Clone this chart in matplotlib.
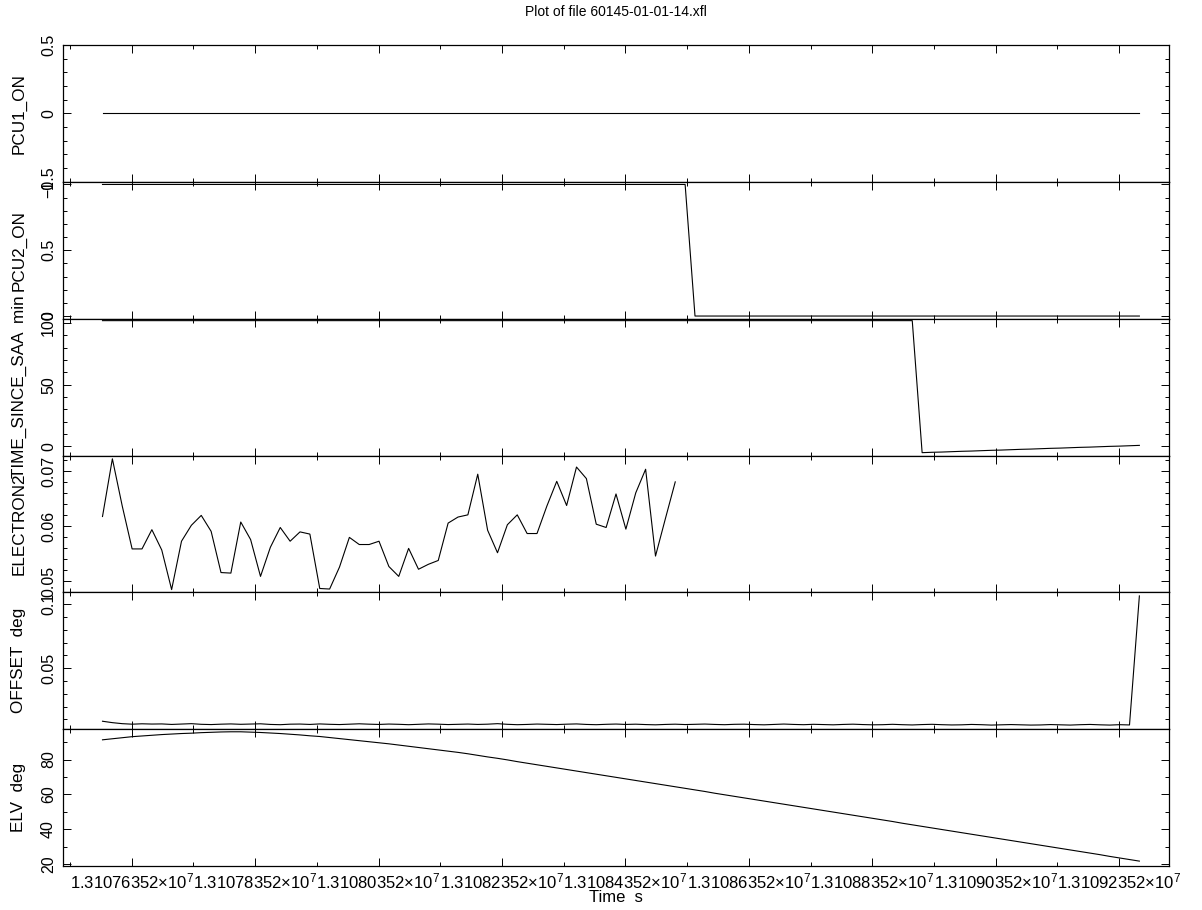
import numpy as np
import matplotlib
matplotlib.use('Agg')
import matplotlib.pyplot as plt
from matplotlib.ticker import MultipleLocator, FixedLocator

plt.rcParams['font.family'] = ['Liberation Sans', 'DejaVu Sans']
plt.rcParams['mathtext.fontset'] = 'custom'
plt.rcParams['mathtext.rm'] = 'Liberation Sans'
plt.rcParams['mathtext.it'] = 'Liberation Sans:italic'
plt.rcParams['mathtext.bf'] = 'Liberation Sans:bold'

# time column: 16 s rows
t_start = 13107588.0
t_step = 16.0
n_rows = 106
time = t_start + t_step * np.arange(n_rows)

pcu1_on = [0] * 106
pcu2_on = [1] * 60 + [0] * 46

time_since_saa = [101.9] * 83 + [
    -5.0, -4.7, -4.5, -4.2, -3.9, -3.7, -3.4, -3.1, -2.9, -2.6,
    -2.3, -2.1, -1.8, -1.5, -1.3, -1.0, -0.7, -0.5, -0.2, 0.1,
    0.3, 0.6, 0.9]

electron2 = [
    0.0618, 0.0723, 0.0637, 0.0559, 0.0559, 0.0594, 0.0557, 0.0485, 0.0573, 0.0602,
    0.0620, 0.0591, 0.0516, 0.0515, 0.0608, 0.0576, 0.0509, 0.0562, 0.0598, 0.0573,
    0.0590, 0.0586, 0.0487, 0.0486, 0.0526, 0.0580, 0.0567, 0.0567, 0.0573, 0.0527,
    0.0509, 0.0560, 0.0522, 0.0531, 0.0538, 0.0606, 0.0617, 0.0621, 0.0695, 0.0593,
    0.0552, 0.0603, 0.0621, 0.0587, 0.0587, 0.0637, 0.0682, 0.0638, 0.0708, 0.0687,
    0.0604, 0.0598, 0.0659, 0.0595, 0.0661, 0.0704, 0.0546, 0.0614, 0.0681]

offset = [
    0.0085, 0.0074, 0.0066, 0.0062, 0.0065, 0.0063, 0.0064, 0.0060, 0.0063, 0.0066,
    0.0061, 0.0059, 0.0062, 0.0064, 0.0061, 0.0063, 0.0065, 0.0060, 0.0058, 0.0062,
    0.0063, 0.0060, 0.0064, 0.0061, 0.0059, 0.0062, 0.0065, 0.0062, 0.0060, 0.0063,
    0.0061, 0.0058, 0.0061, 0.0064, 0.0062, 0.0059, 0.0061, 0.0063, 0.0060, 0.0062,
    0.0066, 0.0061, 0.0058, 0.0060, 0.0063, 0.0061, 0.0059, 0.0062, 0.0064, 0.0060,
    0.0058, 0.0061, 0.0063, 0.0060, 0.0062, 0.0059, 0.0057, 0.0060, 0.0062, 0.0059,
    0.0061, 0.0063, 0.0060, 0.0058, 0.0061, 0.0062, 0.0059, 0.0057, 0.0060, 0.0063,
    0.0060, 0.0058, 0.0061, 0.0059, 0.0057, 0.0060, 0.0062, 0.0059, 0.0057, 0.0058,
    0.0061, 0.0058, 0.0056, 0.0059, 0.0061, 0.0058, 0.0056, 0.0057, 0.0060, 0.0058,
    0.0055, 0.0057, 0.0059, 0.0057, 0.0055, 0.0056, 0.0059, 0.0057, 0.0055, 0.0058,
    0.0060, 0.0057, 0.0055, 0.0058, 0.0056, 0.1065]

elv = [
    91.3, 91.9, 92.5, 93.1, 93.5, 93.9, 94.3, 94.6, 94.9, 95.1,
    95.4, 95.6, 95.8, 95.9, 95.9, 95.7, 95.5, 95.2, 94.9, 94.5,
    94.1, 93.6, 93.2, 92.6, 92.0, 91.4, 90.8, 90.2, 89.6, 89.0,
    88.3, 87.6, 86.9, 86.2, 85.5, 84.8, 84.1, 83.3, 82.4, 81.5,
    80.7, 79.8, 78.8, 77.9, 77.0, 76.1, 75.2, 74.3, 73.4, 72.5,
    71.6, 70.7, 69.8, 68.9, 68.0, 67.1, 66.2, 65.3, 64.4, 63.5,
    62.6, 61.7, 60.7, 59.8, 58.9, 58.0, 57.1, 56.2, 55.3, 54.4,
    53.5, 52.6, 51.7, 50.8, 49.9, 49.0, 48.1, 47.2, 46.3, 45.4,
    44.5, 43.5, 42.6, 41.7, 40.8, 39.9, 39.0, 38.1, 37.2, 36.3,
    35.4, 34.5, 33.6, 32.7, 31.8, 30.9, 30.0, 29.1, 28.2, 27.3,
    26.4, 25.5, 24.5, 23.6, 22.7, 21.8]

series = [pcu1_on, pcu2_on, time_since_saa, electron2, offset, elv]
ylabels = ['PCU1_ON', 'PCU2_ON', 'TIME_SINCE_SAA  min', 'ELECTRON2', 'OFFSET  deg', 'ELV  deg']
ylims = [(-0.5, 0.5), (-0.02, 1.02), (-7.3, 103.5), (0.048, 0.0729), (0.0023, 0.1093), (19.0, 97.4)]
yticks = [[-0.5, 0, 0.5], [0, 0.5, 1], [0, 50, 100], [0.05, 0.06, 0.07], [0.05, 0.1], [20, 40, 60, 80]]
yminor = [0.1, 0.1, 10, 0.002, 0.01, 10]

xticks = [13107635.2 + 200 * k for k in range(9)]
xminor = [13107535.2 + 200 * k for k in range(10)]
xlim = (13107524.0, 13109316.0)

W, H = 1202, 910
fig = plt.figure(figsize=(W / 100, H / 100), dpi=100)

left, right = 63, 1169
top, bottom = 45, 866
ph = (bottom - top) / 6.0

for i in range(6):
    y0 = top + (i + 1) * ph
    ax = fig.add_axes([left / W, 1 - y0 / H, (right - left) / W, ph / H])
    y = series[i]
    ax.plot(time[:len(y)], y, color='black', lw=0.8)
    ax.set_xlim(xlim)
    ax.set_ylim(ylims[i])
    ax.xaxis.set_major_locator(FixedLocator(xticks))
    ax.xaxis.set_minor_locator(FixedLocator(xminor))
    ax.set_yticks(yticks[i])
    ax.set_yticklabels([('%g' % v).replace('-', '\u2212') for v in yticks[i]],
                       rotation=90, va='center', fontsize=11.5)
    ax.yaxis.set_minor_locator(MultipleLocator(yminor[i]))
    ax.tick_params(which='both', direction='in', top=True, bottom=True,
                   left=True, right=True, width=0.7, color='black')
    ax.tick_params(which='major', length=5.8)
    ax.tick_params(which='minor', length=2.9)
    ax.tick_params(axis='y', pad=5)
    for sp in ax.spines.values():
        sp.set_linewidth(0.9)
    if i < 5:
        ax.tick_params(labelbottom=False)
    else:
        ax.set_xticklabels(['%.8f\u00d710$^{7}$' % (v / 1e7) for v in xticks], fontsize=12)
        ax.tick_params(axis='x', pad=4)
    fig.text(19 / W, 1 - (y0 - ph / 2) / H, ylabels[i], rotation=90,
             ha='center', va='center', fontsize=12.3)

fig.text((left + right) / 2 / W, 1 - 898 / H, 'Time  s', ha='center', va='center', fontsize=12)
fig.text((left + right) / 2 / W, 1 - 12 / H, 'Plot of file 60145-01-01-14.xfl',
         ha='center', va='center', fontsize=10)

fig.savefig('out.png', dpi=100)
